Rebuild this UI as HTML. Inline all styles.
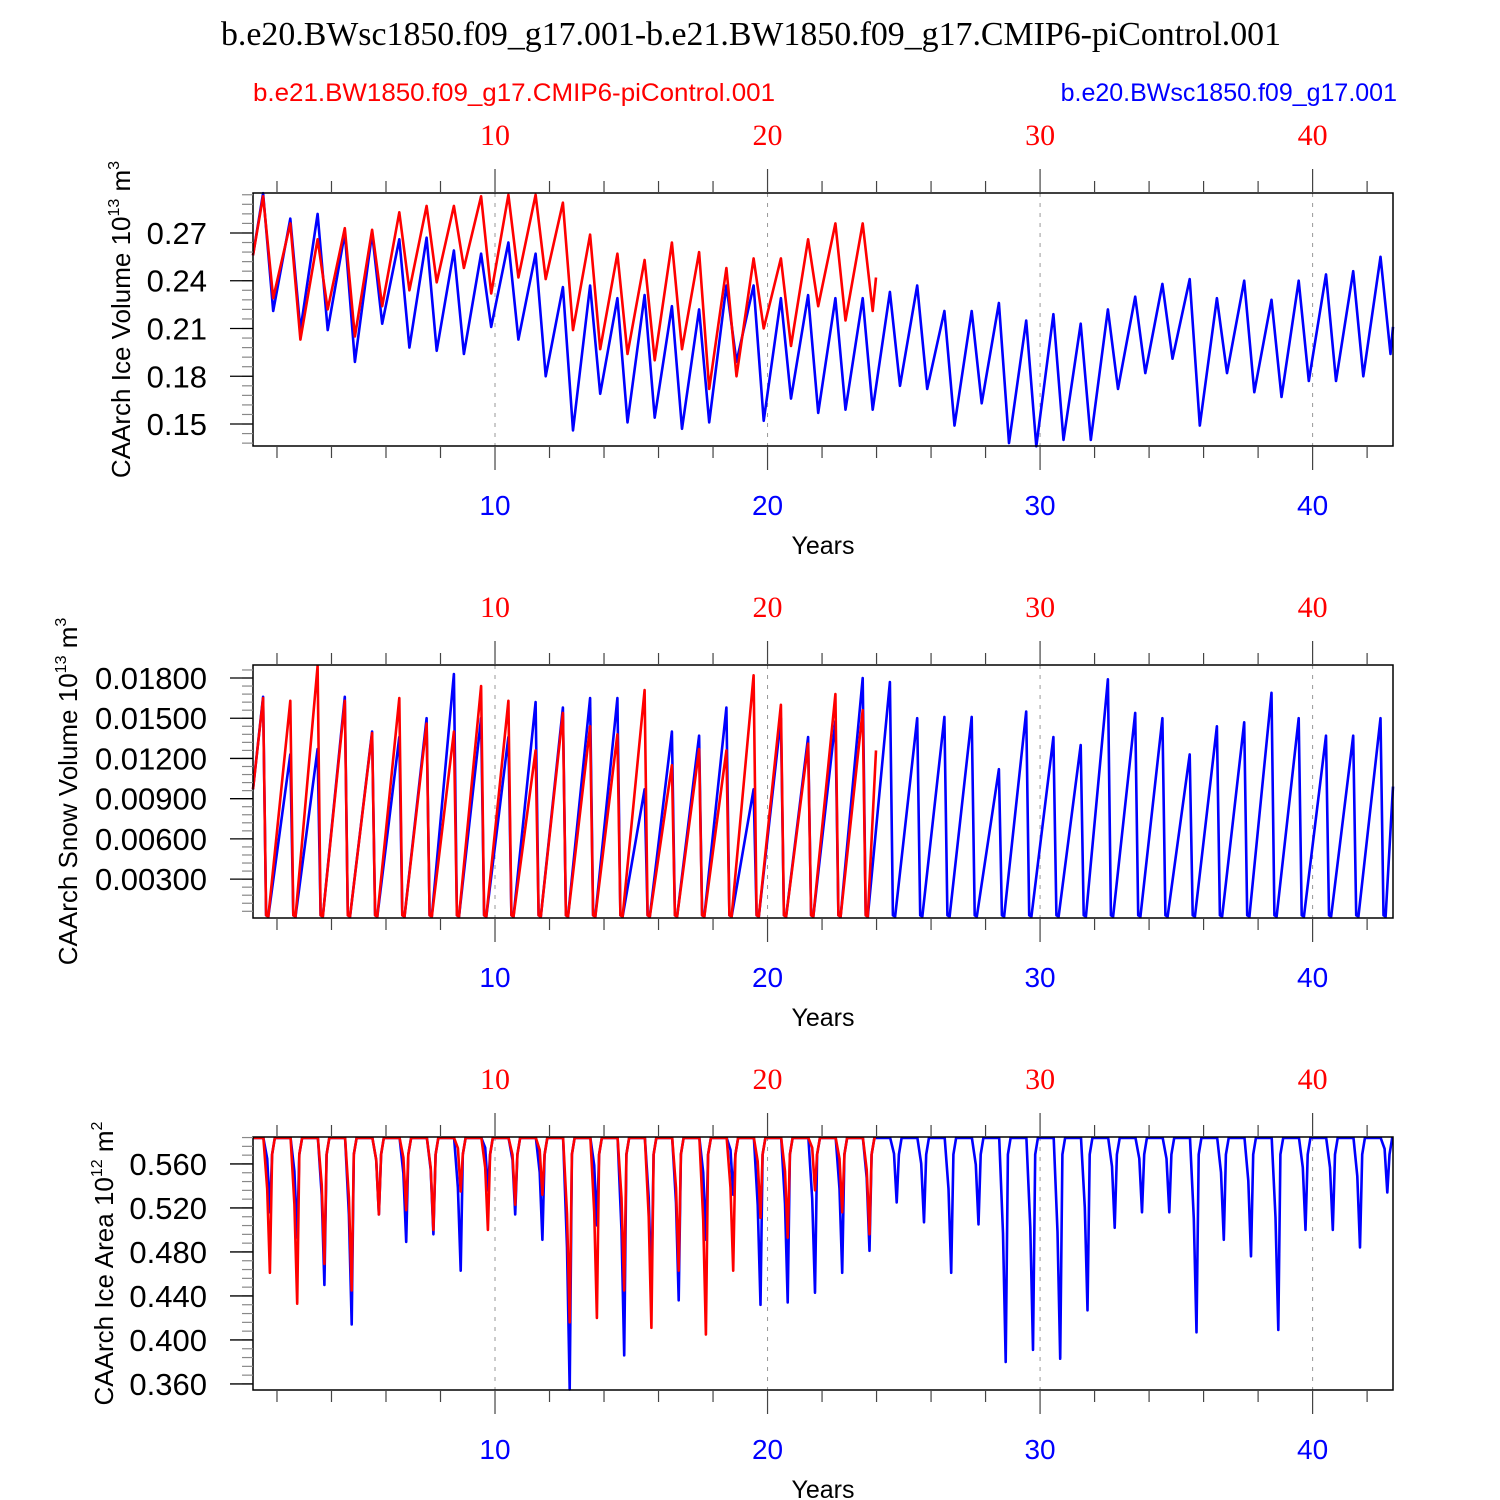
<!DOCTYPE html>
<html><head><meta charset="utf-8"><style>
body{margin:0;background:#fff}
svg{display:block}
text{font-family:"Liberation Sans",sans-serif}
.serif{font-family:"Liberation Serif",serif}
</style></head><body>
<svg id="chart" width="1500" height="1500" viewBox="0 0 1500 1500" xmlns="http://www.w3.org/2000/svg">
<text class="serif" x="751" y="45" font-size="34" text-anchor="middle" textLength="1060" lengthAdjust="spacingAndGlyphs">b.e20.BWsc1850.f09_g17.001-b.e21.BW1850.f09_g17.CMIP6-piControl.001</text>
<text x="253" y="101" font-size="25" fill="#f00" textLength="522" lengthAdjust="spacingAndGlyphs">b.e21.BW1850.f09_g17.CMIP6-piControl.001</text>
<text x="1397" y="101" font-size="25" fill="#00f" text-anchor="end">b.e20.BWsc1850.f09_g17.001</text>
</svg>
<script>
// ---- data ----
// Panel 1: ice volume, annual peaks (k+0.49) and troughs (k+0.86)
const volBluePeaks=[0.295,0.279,0.282,0.270,0.270,0.266,0.267,0.259,0.257,0.264,0.257,0.236,0.237,0.229,0.231,0.224,0.222,0.237,0.237,0.229,0.231,0.229,0.229,0.233,0.237,0.221,0.221,0.226,0.215,0.219,0.213,0.222,0.230,0.238,0.241,0.229,0.240,0.228,0.240,0.244,0.246,0.255];
const volBlueTroughs=[0.221,0.209,0.209,0.189,0.213,0.198,0.196,0.194,0.211,0.203,0.180,0.146,0.169,0.151,0.154,0.147,0.151,0.189,0.152,0.166,0.157,0.159,0.159,0.174,0.172,0.149,0.163,0.138,0.136,0.140,0.140,0.172,0.182,0.191,0.149,0.182,0.170,0.167,0.177,0.177,0.180,0.194];
const volRedPeaks=[0.293,0.276,0.266,0.273,0.272,0.283,0.287,0.287,0.293,0.294,0.294,0.289,0.269,0.257,0.253,0.264,0.258,0.248,0.254,0.254,0.266,0.276,0.276];
const volRedTroughs=[0.229,0.203,0.222,0.205,0.224,0.234,0.239,0.248,0.232,0.242,0.241,0.209,0.197,0.194,0.190,0.197,0.172,0.180,0.210,0.199,0.224,0.215,0.221];
const volRedLast=0.242;
const volBlueLast=0.211;
// Panel 2: snow volume, annual peaks
const snowBluePeaks=[0.0166,0.0123,0.0127,0.0166,0.0140,0.0136,0.0150,0.0183,0.0150,0.0136,0.0162,0.0158,0.0165,0.0165,0.0097,0.0140,0.0137,0.0158,0.0097,0.0150,0.0136,0.0148,0.0180,0.0177,0.0150,0.0151,0.0151,0.0112,0.0155,0.0136,0.0130,0.0179,0.0154,0.0150,0.0123,0.0144,0.0147,0.0169,0.0150,0.0137,0.0137,0.0150];
const snowRedPeaks=[0.0165,0.0163,0.0189,0.0163,0.0139,0.0165,0.0146,0.0140,0.0174,0.0163,0.0126,0.0154,0.0144,0.0138,0.0171,0.0115,0.0127,0.0126,0.0182,0.0160,0.0131,0.0168,0.0156];
// Panel 3: ice area, annual minima
const areaBlueMins=[0.516,0.493,0.450,0.414,0.514,0.489,0.496,0.463,0.536,0.514,0.491,0.355,0.504,0.386,0.445,0.436,0.491,0.532,0.432,0.434,0.443,0.461,0.481,0.525,0.507,0.461,0.505,0.380,0.391,0.383,0.427,0.502,0.516,0.516,0.407,0.491,0.476,0.409,0.500,0.500,0.484,0.534];
const areaRedMins=[0.461,0.433,0.469,0.445,0.514,0.518,0.500,0.535,0.500,0.523,0.532,0.416,0.420,0.445,0.411,0.463,0.405,0.463,0.511,0.493,0.536,0.516,0.496];
const xTickLabels=[10,20,30,40];

const NS="http://www.w3.org/2000/svg";
const svg=document.getElementById('chart');
const X0=253,X1=1393,T0=1.12,T1=42.95,BLUE_END=42.95,RED_END=23.98;
function xs(t){return X0+(t-T0)/(T1-T0)*(X1-X0);}
function mk(tag,attrs,parent){const e=document.createElementNS(NS,tag);for(const k in attrs)e.setAttribute(k,attrs[k]);(parent||svg).appendChild(e);return e;}

const panels=[
 {top:193,bot:446,ymin:0.1362,ymax:0.2951,ticks:[0.27,0.24,0.21,0.18,0.15],dec:2,minorStep:0.006,label:'CAArch Ice Volume 10',sup:'13',unit:' m',usup:'3',labx:130,name:'ice-volume'},
 {top:665,bot:918,ymin:0.0001,ymax:0.01897,ticks:[0.018,0.015,0.012,0.009,0.006,0.003],dec:5,minorStep:0.0006,label:'CAArch Snow Volume 10',sup:'13',unit:' m',usup:'3',labx:77,name:'snow-volume'},
 {top:1137,bot:1390,ymin:0.3545,ymax:0.5845,ticks:[0.56,0.52,0.48,0.44,0.40,0.36],dec:3,minorStep:0.008,label:'CAArch Ice Area 10',sup:'12',unit:' m',usup:'2',labx:113,name:'ice-area'}
];

function clipPts(pts,end){const out=[];for(let i=0;i<pts.length;i++){const p=pts[i];if(p[0]<=end)out.push(p);else{const q=out[out.length-1];if(q){const f=(end-q[0])/(p[0]-q[0]);out.push([end,q[1]+f*(p[1]-q[1])]);}break;}}return out;}
function volPts(peaks,troughs,start,last,end){const p=[[T0,start]];for(let i=0;i<peaks.length;i++){const k=i+1;p.push([k+0.49,peaks[i]]);if(i<troughs.length)p.push([k+0.86,troughs[i]]);}p.push([end,last]);return clipPts(p,end);}
function snowPts(peaks,end,lastv){const p=[[T0,0.0097]];for(let i=0;i<peaks.length;i++){const k=i+1;p.push([k+0.49,peaks[i]]);p.push([k+0.6,0.0003]);p.push([k+0.68,0.0002]);}p.push([end,lastv]);return clipPts(p,end);}
function areaPts(mins,end){const M=0.5836;const p=[[T0,M]];for(let i=0;i<mins.length;i++){const k=i+1;p.push([k+0.5,M]);p.push([k+0.64,(M+mins[i])/2+0.015]);p.push([k+0.74,mins[i]]);p.push([k+0.82,M-0.015]);p.push([k+0.92,M]);}p.push([mins.length+1.5,M]);return clipPts(p,end);}

const series=[
 [volPts(volBluePeaks,volBlueTroughs,0.256,volBlueLast,BLUE_END),volPts(volRedPeaks,volRedTroughs,0.256,volRedLast,RED_END)],
 [snowPts(snowBluePeaks,BLUE_END,0.0099),snowPts(snowRedPeaks,RED_END,0.0126)],
 [areaPts(areaBlueMins,BLUE_END),areaPts(areaRedMins,RED_END)]
];

panels.forEach((P,pi)=>{
 const g=mk('g',{});
 
 
 const ys=v=>P.bot-(v-P.ymin)/(P.ymax-P.ymin)*(P.bot-P.top);
 xTickLabels.forEach(t=>{const l=mk('line',{x1:xs(t),x2:xs(t),y1:P.top,y2:P.bot,stroke:'#999','stroke-width':1,'stroke-dasharray':'4,6'},g);
  });
 const cols=['#00f','#f00'];
 [0,1].forEach(si=>{const pts=series[pi][si];
  const d=pts.map((p,i)=>(i?'L':'M')+xs(p[0]).toFixed(1)+','+ys(p[1]).toFixed(1)).join('');
  const path=mk('path',{d:d,fill:'none',stroke:cols[si],'stroke-width':2.6,'stroke-linejoin':'round'},g);
  
  });
 const r=mk('rect',{x:X0,y:P.top,width:X1-X0,height:P.bot-P.top,fill:'none',stroke:'#000','stroke-width':1.5},g);
 
 for(let t=2;t<=42;t+=2){const major=t%10===0;const L=major?24:12;
  mk('line',{x1:xs(t),x2:xs(t),y1:P.top,y2:P.top-L,stroke:'#444','stroke-width':1.2},g);
  mk('line',{x1:xs(t),x2:xs(t),y1:P.bot,y2:P.bot+L,stroke:'#444','stroke-width':1.2},g);}
 xTickLabels.forEach(t=>{
  const a=mk('text',{x:xs(t),y:P.top-48,'font-size':30,fill:'#f00','text-anchor':'middle',class:'serif'},g);a.textContent=t;
  
  const b=mk('text',{x:xs(t),y:P.bot+69,'font-size':28,fill:'#00f','text-anchor':'middle'},g);b.textContent=t;
  });
 const xt=mk('text',{x:823,y:P.bot+108,'font-size':25,'text-anchor':'middle'},g);xt.textContent='Years';
 
 for(let v=P.ticks[P.ticks.length-1]-P.minorStep*10;v<=P.ymax;v+=P.minorStep){if(v<P.ymin)continue;
  mk('line',{x1:X0,x2:X0-11,y1:ys(v),y2:ys(v),stroke:'#888','stroke-width':1.2},g);}
 P.ticks.forEach(v=>{mk('line',{x1:X0,x2:X0-23,y1:ys(v),y2:ys(v),stroke:'#000','stroke-width':1.3},g);
  const tl=mk('text',{x:X0-46,y:ys(v)+11,'font-size':31,'text-anchor':'end'},g);tl.textContent=v.toFixed(P.dec);
  });
 const cy=(P.top+P.bot)/2;
 const yt=mk('text',{x:P.labx,y:cy,'font-size':26,'text-anchor':'middle',transform:'rotate(-90 '+P.labx+' '+cy+')'},g);
 
 yt.innerHTML=P.label+'<tspan dy="-11" font-size="16">'+P.sup+'</tspan><tspan dy="11">'+P.unit+'</tspan><tspan dy="-11" font-size="16">'+P.usup+'</tspan>';
});
</script>
</body></html>
